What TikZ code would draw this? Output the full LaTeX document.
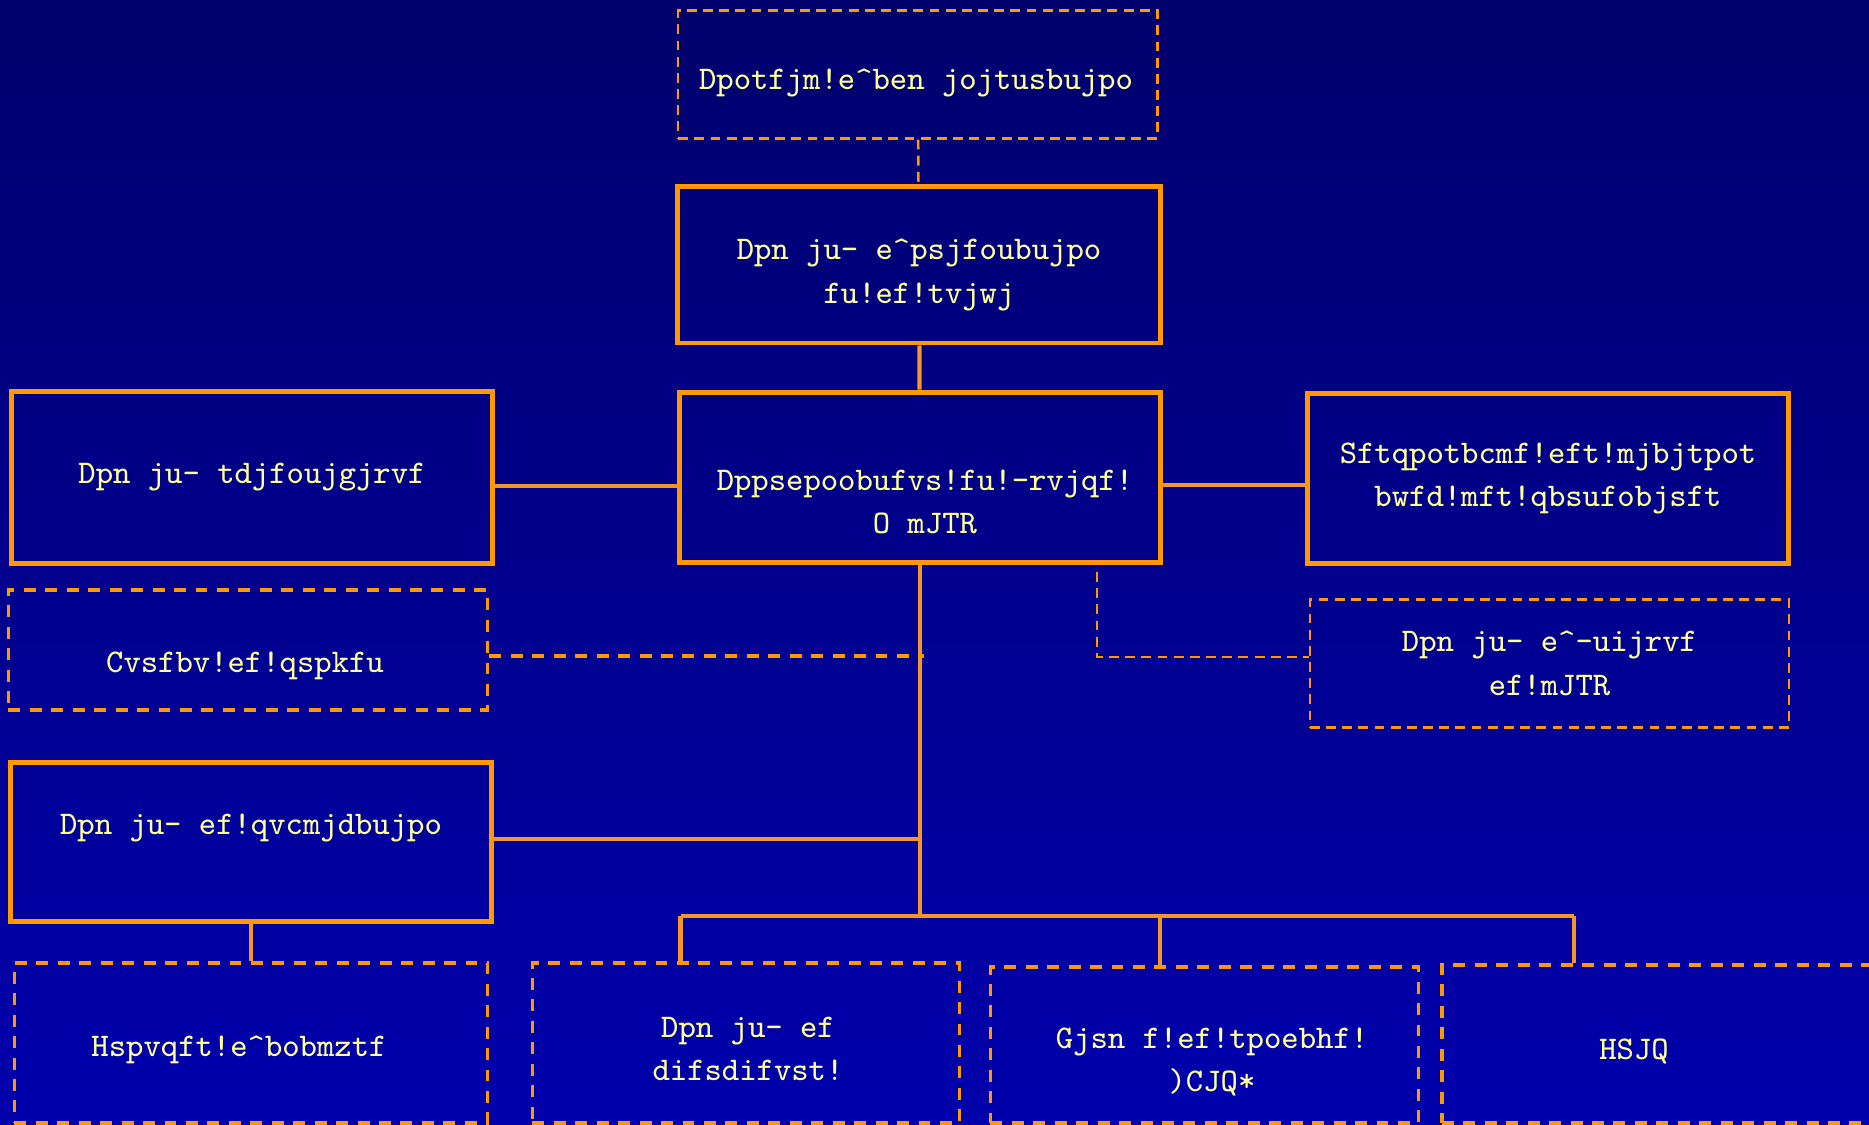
\documentclass[tikz,border=0pt]{standalone}
\usepackage{fontspec}
\definecolor{bgtop}{RGB}{0,0,108}
\definecolor{bgbot}{RGB}{0,0,172}
\definecolor{boxorange}{RGB}{255,153,0}
\definecolor{lineorange}{RGB}{245,150,40}
\definecolor{txtyellow}{RGB}{255,255,153}
\tikzset{
  bigbox/.style={draw=boxorange, line width=1.4pt, inner sep=0pt},
  thinbox/.style={draw=boxorange, line width=0.7pt, dash pattern=on 2.8pt off 1.8pt, inner sep=0pt},
  dashbox/.style={draw=boxorange, line width=1pt, dash pattern=on 3.4pt off 2.7pt, inner sep=0pt},
  link/.style={draw=lineorange, line width=1.2pt},
  dlink/.style={draw=boxorange, line width=1pt, dash pattern=on 3.4pt off 2.7pt},
  tlink/.style={draw=boxorange, line width=0.7pt, dash pattern=on 2.8pt off 1.8pt},
  txt/.style={text=txtyellow, align=center, font=\ttfamily\fontsize{9.4}{12.4}\selectfont}
}
\begin{document}
\begin{tikzpicture}[x=0.01cm, y=-0.01cm]
\useasboundingbox (0,0) rectangle (1869,1125);
\shade [top color=bgtop, bottom color=bgbot] (0,0) rectangle (1869,1125);
\clip (0,0) rectangle (1869,1125);
% top row
\node [thinbox, minimum width=4.79cm, minimum height=1.276cm] (board) at (917.8,74.5) {};
\node [txt] (boardtxt) at (916,83) {Dpotfjm!e\textasciicircum ben jojtusbujpo};
\node [bigbox, minimum width=4.82cm, minimum height=1.56cm] (orient) at (919,265) {};
\node [txt] (orienttxt) at (919,275) {Dpn ju- e\textasciicircum psjfoubujpo\\fu!ef!tvjwj};
% middle row
\node [bigbox, minimum width=4.805cm, minimum height=1.705cm] (coord) at (920,477.5) {};
\node [txt] (coordtxt) at (925,502) {Dppsepoobufvs!fu!-rvjqf!\\O mJTR};
\node [bigbox, txt, minimum width=4.80cm, minimum height=1.71cm] (sci) at (252,477.5) {Dpn ju- tdjfoujgjrvf};
\node [bigbox, txt, minimum width=4.80cm, minimum height=1.705cm] (resp) at (1548,478.5) {Sftqpotbcmf!eft!mjbjtpot\\bwfd!mft!qbsufobjsft};
\node [dashbox, minimum width=4.79cm, minimum height=1.20cm] (bureau) at (248,650) {};
\node [txt] (bureautxt) at (245,666) {Cvsfbv!ef!qspkfu};
\node [thinbox, txt, minimum width=4.79cm, minimum height=1.275cm] (ethics) at (1549.5,663.5) {Dpn ju- e\textasciicircum -uijrvf\\ef!mJTR};
\node [bigbox, minimum width=4.80cm, minimum height=1.585cm] (pub) at (251,842) {};
\node [txt] (pubtxt) at (251,828) {Dpn ju- ef!qvcmjdbujpo};
% bottom row
\node [dashbox, minimum width=4.73cm, minimum height=1.60cm] (groups) at (251,1043) {};
\node [txt] (groupstxt) at (239,1050) {Hspvqft!e\textasciicircum bobmztf};
\node [dashbox, minimum width=4.27cm, minimum height=1.60cm] (research) at (746,1043) {};
\node [txt] (researchtxt) at (748,1049) {Dpn ju- ef\\difsdifvst!};
\node [dashbox, minimum width=4.28cm, minimum height=1.56cm] (firm) at (1204.5,1045) {};
\node [txt] (firmtxt) at (1212,1062) {Gjsn f!ef!tpoebhf!\\)CJQ*};
\node [dashbox, minimum width=4.58cm, minimum height=1.58cm] (griq) at (1671,1044) {};
\node [txt] (griqtxt) at (1634,1052) {HSJQ};
% connectors
\coordinate (bus) at (920,916);
\coordinate (busL) at (680.6,916);
\coordinate (busM) at (1160,916);
\coordinate (busR) at (1574,916);
\coordinate (bureauend) at (924,656);
\coordinate (ethtop) at (1097,572);
\draw [tlink] (board) -- (orient);
\draw [link] (orient) -- (coord);
\draw [link] (sci.east |- 0,486) -- (coord.west |- 0,486);
\draw [link] (coord.east |- 0,485) -- (resp.west |- 0,485);
\draw [link] (coord.south) -- (bus);
\draw [dlink] (bureau.east |- bureauend) -- (bureauend);
\draw [tlink] (ethtop) -- (ethtop |- 0,657) -- (ethics.west |- 0,657);
\draw [link] (pub.east |- 0,839) -- (bus |- 0,839);
\draw [link] (busL) -- (busR);
\draw [link] (busL) -- (busL |- research.north);
\draw [link] (busM) -- (busM |- firm.north);
\draw [link] (busR) -- (busR |- griq.north);
\draw [link] (pub.south) -- (groups.north);
\end{tikzpicture}
\end{document}
